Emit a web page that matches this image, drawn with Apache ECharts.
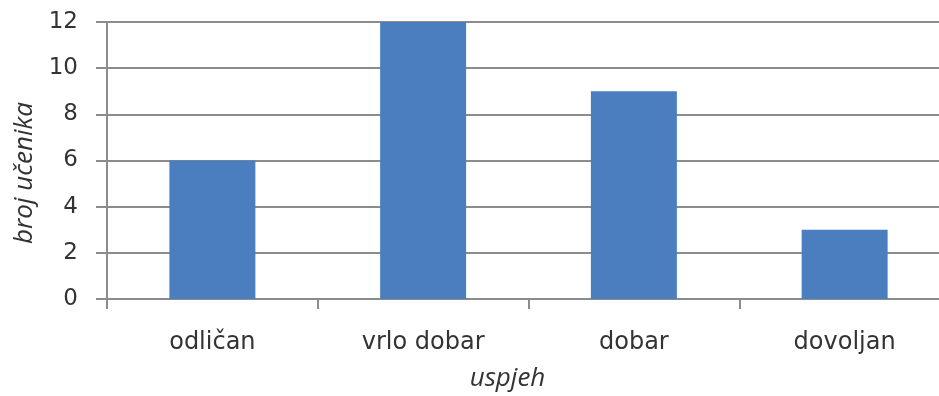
<!DOCTYPE html>
<html>
<head>
<meta charset="utf-8">
<script src="https://cdn.jsdelivr.net/npm/echarts@6/dist/echarts.min.js"></script>
<style>
  html, body { margin: 0; padding: 0; background: #fff; }
  #chart { width: 939px; height: 396px; }
</style>
</head>
<body>
<div id="chart"></div>
<script>
// Ocjene učenika po uspjehu
const categories = ['odličan', 'vrlo dobar', 'dobar', 'dovoljan'];
const studentCounts = [6, 12, 9, 3];
const yTicks = { min: 0, max: 12, interval: 2 };
const xTitle = 'uspjeh';
const yTitle = 'broj učenika';

const chart = echarts.init(document.getElementById('chart'), null, { renderer: 'canvas' });
const gray = '#8c8c8c';
const textColor = '#333333';

chart.setOption({
  animation: false,
  backgroundColor: '#ffffff',
  grid: { left: 107, right: -11, top: 22, bottom: 97, containLabel: false, outerBoundsMode: 'none' },
  xAxis: {
    type: 'category',
    data: categories,
    boundaryGap: true,
    name: xTitle,
    nameLocation: 'middle',
    nameGap: 67,
    // shift the title left of the plot centre
    nameTextStyle: { fontFamily: 'Open Sans', fontStyle: 'italic', fontSize: 26, color: textColor, padding: [0, 42, 0, 0] },
    axisLine: { show: true, lineStyle: { color: gray, width: 2 } },
    axisTick: { show: true, alignWithLabel: false, length: 10, lineStyle: { color: gray, width: 2 } },
    axisLabel: { margin: 32, fontFamily: 'DejaVu Sans', fontSize: 24, color: textColor },
    splitLine: { show: false }
  },
  yAxis: {
    type: 'value',
    min: yTicks.min,
    max: yTicks.max,
    interval: yTicks.interval,
    name: yTitle,
    nameLocation: 'middle',
    nameGap: 68,
    nameRotate: 90,
    nameTextStyle: { fontFamily: 'Open Sans', fontStyle: 'italic', fontSize: 26, color: textColor, padding: [0, 25, 0, 0] },
    axisLine: { show: true, lineStyle: { color: gray, width: 2 } },
    axisTick: { show: true, length: 11, lineStyle: { color: gray, width: 2 } },
    axisLabel: { margin: 29, fontFamily: 'DejaVu Sans', fontSize: 23, color: textColor },
    splitLine: { show: true, lineStyle: { color: gray, width: 2 } }
  },
  series: [{
    type: 'bar',
    data: studentCounts,
    barWidth: 86,
    itemStyle: { color: '#4a7ebf' }
  }]
});
</script>
</body>
</html>
